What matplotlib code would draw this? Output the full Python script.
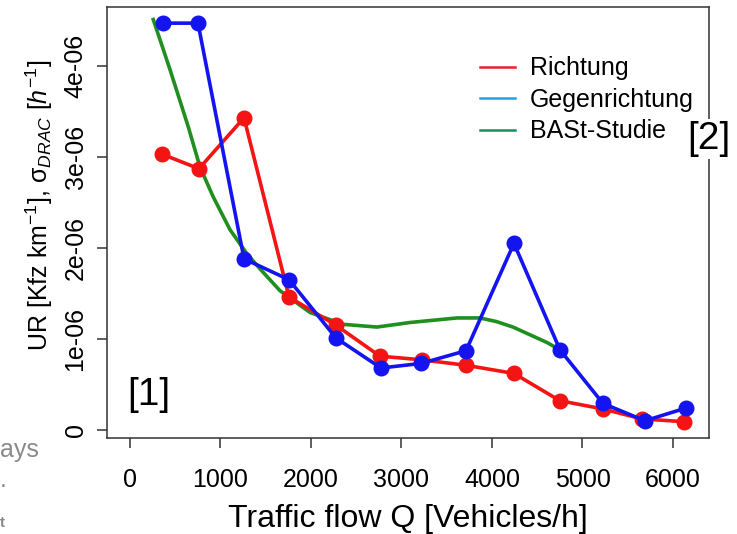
import matplotlib
matplotlib.use('Agg')
import matplotlib.pyplot as plt
from matplotlib.lines import Line2D

plt.rcParams['font.family'] = ['Liberation Sans', 'DejaVu Sans']
plt.rcParams['mathtext.fontset'] = 'custom'
plt.rcParams['mathtext.rm'] = 'Liberation Sans'
plt.rcParams['mathtext.it'] = 'Liberation Sans:italic'

# ----------------------------
# Daten
# ----------------------------
q_richtung = [354, 762, 1260, 1757, 2276, 2762, 3226, 3713, 4243, 4751, 5227, 5657, 6122]
ur_richtung = [3.03e-6, 2.87e-6, 3.43e-6, 1.46e-6, 1.15e-6, 0.81e-6, 0.77e-6,
               0.71e-6, 0.62e-6, 0.32e-6, 0.23e-6, 0.12e-6, 0.09e-6]

q_gegen = [365, 751, 1260, 1757, 2276, 2773, 3215, 3713, 4243, 4751, 5227, 5690, 6144]
ur_gegen = [4.47e-6, 4.47e-6, 1.88e-6, 1.65e-6, 1.01e-6, 0.68e-6, 0.73e-6,
            0.87e-6, 2.05e-6, 0.88e-6, 0.29e-6, 0.10e-6, 0.24e-6]

q_bast = [257, 442, 644, 773, 920, 1105, 1289, 1436, 1657, 1989, 2354, 2729, 3094,
          3613, 3867, 4050, 4232, 4608, 4751]
ur_bast = [4.51e-6, 3.96e-6, 3.33e-6, 2.89e-6, 2.56e-6, 2.20e-6, 1.94e-6, 1.77e-6,
           1.53e-6, 1.29e-6, 1.16e-6, 1.13e-6, 1.18e-6, 1.23e-6, 1.23e-6, 1.19e-6,
           1.13e-6, 0.96e-6, 0.88e-6]

x_ticks = [0, 1000, 2000, 3000, 4000, 5000, 6000]
y_ticks = [0, 1e-6, 2e-6, 3e-6, 4e-6]
y_ticklabels = ['0', '1e-06', '2e-06', '3e-06', '4e-06']

legend_labels = ['Richtung', 'Gegenrichtung', 'BASt-Studie']
legend_colors = ['#e8202a', '#1fa6d6', '#13905e']

# ----------------------------
# Grafik
# ----------------------------
fig = plt.figure(figsize=(7.37, 5.34), dpi=100)
ax = fig.add_axes([0.1452, 0.180, 0.8168, 0.807])

ax.plot(q_bast, ur_bast, color='#1f8f1f', lw=2.6, zorder=2)
ax.plot(q_richtung, ur_richtung, color='#f41414', lw=2.6, marker='o', ms=10.5, zorder=3)
ax.plot(q_gegen, ur_gegen, color='#1414f0', lw=2.6, marker='o', ms=10.5, zorder=4)

ax.set_xlim(-254, 6398)
ax.set_ylim(-0.088e-6, 4.648e-6)
ax.set_xticks(x_ticks)
ax.set_xticklabels([str(t) for t in x_ticks])
ax.set_yticks(y_ticks)
ax.set_yticklabels(y_ticklabels, rotation=90, va='center')

for s in ax.spines.values():
    s.set_linewidth(1.1)
    s.set_color('#333333')
ax.tick_params(axis='both', labelsize=18, length=7, width=1.1, color='#333333')
ax.tick_params(axis='x', pad=15)
ax.tick_params(axis='y', pad=7)

ax.set_xlabel('Traffic flow Q [Vehicles/h]', fontsize=23, labelpad=8)
fig.text(0.054, 0.615, r'UR [Kfz km$^{\mathrm{-1}}$], σ$_{DRAC}$ [$h^{\mathrm{-1}}$]',
         rotation=90, fontsize=18, ha='center', va='center')

handles = [Line2D([], [], color=c, lw=1.8) for c in legend_colors]
ax.legend(handles, legend_labels, loc='upper left', bbox_to_anchor=(0.62, 0.885),
          frameon=False, fontsize=18, handlelength=1.4, handletextpad=0.6,
          labelspacing=0.3, borderpad=0, borderaxespad=0)

ax.text(149 / 737, 1 - 395 / 534, '[1]', transform=fig.transFigure, fontsize=28,
        ha='center', va='center')
ax.text(709 / 737, 1 - 139 / 534, '[2]', transform=fig.transFigure, fontsize=28,
        ha='center', va='center', zorder=10, clip_on=False,
        bbox=dict(facecolor='white', edgecolor='none', pad=1))

# abgeschnittener Text am linken Rand
fig.text(0.0, 1 - 450 / 534, 'ays', color='#8a8a8a', fontsize=18, ha='left', va='center')
fig.text(0.0, 1 - 480 / 534, '.', color='#8a8a8a', fontsize=18, ha='left', va='center')
fig.text(0.0, 1 - 523 / 534, 't', color='#8a8a8a', fontsize=11, ha='left', va='center',
         fontweight='bold')

fig.savefig('out.png', dpi=100)
